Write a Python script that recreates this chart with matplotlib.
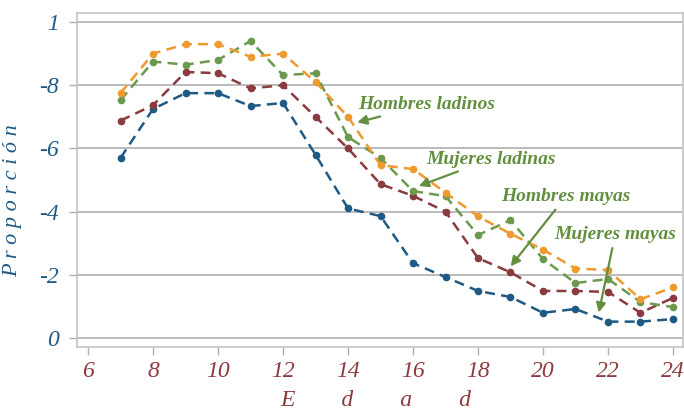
import matplotlib.pyplot as plt

# Datos
edades = [7, 8, 9, 10, 11, 12, 13, 14, 15, 16, 17, 18, 19, 20, 21, 22, 23, 24]
hombres_ladinos = [0.775, 0.90, 0.93, 0.93, 0.89, 0.90, 0.81, 0.70, 0.547, 0.535, 0.46, 0.385, 0.33, 0.28, 0.22, 0.215, 0.123, 0.16]
mujeres_ladinas = [0.753, 0.875, 0.865, 0.88, 0.94, 0.832, 0.838, 0.636, 0.57, 0.465, 0.449, 0.326, 0.373, 0.25, 0.174, 0.187, 0.114, 0.098]
hombres_mayas = [0.688, 0.737, 0.842, 0.838, 0.79, 0.80, 0.70, 0.60, 0.487, 0.45, 0.40, 0.253, 0.208, 0.149, 0.149, 0.146, 0.08, 0.127]
mujeres_mayas = [0.57, 0.725, 0.775, 0.775, 0.734, 0.744, 0.58, 0.41, 0.386, 0.237, 0.193, 0.149, 0.13, 0.08, 0.092, 0.052, 0.052, 0.06]

yticks = [0, 0.2, 0.4, 0.6, 0.8, 1.0]
ytick_labels = ["0", "-2", "-4", "-6", "-8", "1"]
xticks = [6, 8, 10, 12, 14, 16, 18, 20, 22, 24]

azul = "#1F5A85"
rojo = "#8B3A3F"
verde = "#6B9A4E"
naranja = "#EE9A2E"
verde_txt = "#62903F"

plt.rcParams['font.family'] = ['Liberation Serif', 'DejaVu Serif']

fig = plt.figure(figsize=(6.84, 4.12), dpi=100)
ax = fig.add_axes([0.1126, 0.158, 0.886, 0.81])

estilo = dict(linestyle=(0, (4, 2.5)), linewidth=1.8, marker='o', markersize=4.5)
ax.plot(edades, mujeres_mayas, color=azul, **estilo)
ax.plot(edades, hombres_mayas, color=rojo, **estilo)
ax.plot(edades, mujeres_ladinas, color=verde, **estilo)
ax.plot(edades, hombres_ladinos, color=naranja, **estilo)

ax.set_xlim(5.66, 24.31)
ax.set_ylim(-0.028, 1.028)
ax.set_yticks(yticks)
ax.set_yticklabels(ytick_labels)
ax.set_xticks(xticks)

for t in ax.get_yticklabels():
    t.set_color(azul)
    t.set_fontsize(17)
    t.set_style('italic')
for t in ax.get_xticklabels():
    t.set_color(rojo)
    t.set_fontsize(17)
    t.set_style('italic')

ax.grid(axis='y', color='#AFAFAF', linewidth=1.2)
ax.set_axisbelow(True)
for s in ax.spines.values():
    s.set_color('#C4C4C4')
    s.set_linewidth(1.2)
ax.tick_params(axis='both', color='#AFAFAF', length=6, width=1)
ax.tick_params(axis='y', pad=7)
ax.tick_params(axis='x', pad=4)

ax.set_ylabel("P r o p o r c i ó n", color=azul, fontsize=16, style='italic')
ax.set_xlabel("E        d        a        d", color=rojo, fontsize=17, style='italic')
ax.yaxis.set_label_coords(-0.091, 0.4375)
ax.xaxis.set_label_coords(0.493, -0.128)

# Anotaciones
flecha = dict(arrowstyle='-|>', color=verde_txt, lw=1.6, mutation_scale=14)
txt = dict(color=verde_txt, fontsize=14, fontweight='bold', style='italic', ha='left', va='center')
ax.annotate("Hombres ladinos", xy=(14.2, 0.68), xytext=(14.3, 0.739), arrowprops=flecha, **txt)
ax.annotate("Mujeres ladinas", xy=(16.1, 0.478), xytext=(16.4, 0.566), arrowprops=flecha, **txt)
ax.annotate("Hombres mayas", xy=(18.95, 0.22), xytext=(18.72, 0.449), arrowprops=flecha, **txt)
ax.annotate("Mujeres mayas", xy=(21.7, 0.072), xytext=(20.35, 0.329), arrowprops=flecha, **txt)

fig.savefig("out.png", dpi=100)
